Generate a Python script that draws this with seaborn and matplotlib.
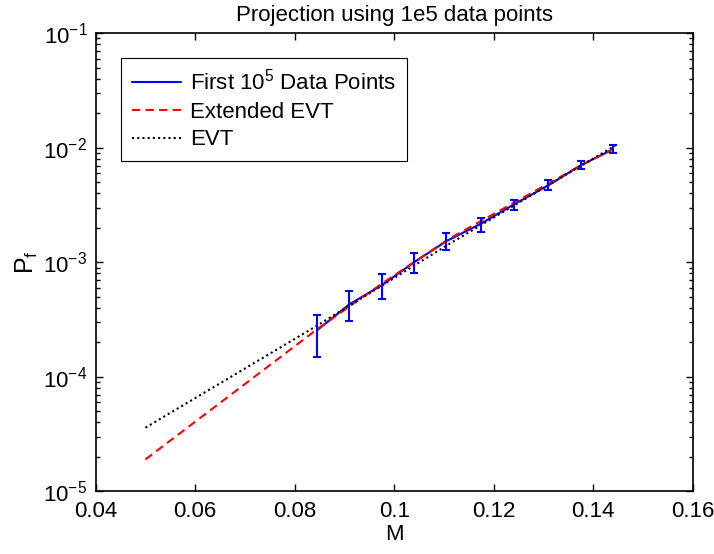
import numpy as np
import pandas as pd
import matplotlib
matplotlib.use('Agg')
import matplotlib.pyplot as plt
import matplotlib.ticker as mticker
import seaborn as sns

# values
m_data = [0.0845, 0.091, 0.0975, 0.104, 0.1105, 0.1175, 0.124, 0.131, 0.1375, 0.144]
pf_data = [2.55e-4, 4.3e-4, 6.3e-4, 1.0e-3, 1.53e-3, 2.18e-3, 3.19e-3, 4.7e-3, 7.03e-3, 9.7e-3]
pf_upper = [3.5e-4, 5.6e-4, 7.85e-4, 1.2e-3, 1.8e-3, 2.44e-3, 3.53e-3, 5.2e-3, 7.6e-3, 1.05e-2]
pf_lower = [1.48e-4, 3.1e-4, 4.75e-4, 8.1e-4, 1.29e-3, 1.83e-3, 2.85e-3, 4.31e-3, 6.5e-3, 9.0e-3]

m_ext = [0.05, 0.0845, 0.0975, 0.111, 0.124, 0.1375, 0.144]
pf_ext = [1.9e-5, 2.6e-4, 6.5e-4, 1.6e-3, 3.3e-3, 7.0e-3, 9.7e-3]

m_evt = [0.05, 0.0845, 0.111, 0.1445]
pf_evt = [3.6e-5, 2.8e-4, 1.44e-3, 1.05e-2]

xticks = [0.04, 0.06, 0.08, 0.1, 0.12, 0.14, 0.16]
xticklabels = ['0.04', '0.06', '0.08', '0.1', '0.12', '0.14', '0.16']

sns.set_style('ticks')
plt.rcParams['font.family'] = ['Liberation Sans', 'DejaVu Sans']
plt.rcParams['mathtext.fontset'] = 'custom'
plt.rcParams['mathtext.rm'] = 'Liberation Sans'
plt.rcParams['mathtext.it'] = 'Liberation Sans:italic'
plt.rcParams['text.color'] = 'black'
plt.rcParams['axes.labelcolor'] = 'black'
plt.rcParams['xtick.color'] = 'black'
plt.rcParams['ytick.color'] = 'black'

fs = 16

fig = plt.figure(figsize=(7.14, 5.54), dpi=100)
ax = fig.add_axes([0.134, 0.113, 0.836, 0.827])

df_data = pd.DataFrame({'M': m_data, 'Pf': pf_data})
df_ext = pd.DataFrame({'M': m_ext, 'Pf': pf_ext})
df_evt = pd.DataFrame({'M': m_evt, 'Pf': pf_evt})

sns.lineplot(data=df_data, x='M', y='Pf', ax=ax, color='#0000ff', lw=1.5,
             label='First 10$^5$ Data Points', sort=False)
sns.lineplot(data=df_ext, x='M', y='Pf', ax=ax, color='#ff0000', lw=1.5,
             linestyle=(0, (4, 2.5)), label='Extended EVT', sort=False)
sns.lineplot(data=df_evt, x='M', y='Pf', ax=ax, color='black', lw=1.5,
             linestyle=(0, (1, 1.5)), label='EVT', sort=False)

yerr = [np.array(pf_data) - np.array(pf_lower), np.array(pf_upper) - np.array(pf_data)]
ax.errorbar(m_data, pf_data, yerr=yerr, fmt='none', ecolor='#0000ff',
            elinewidth=1.5, capsize=3, capthick=1.5)

ax.set_yscale('log')
ax.set_xlim(0.04, 0.16)
ax.set_ylim(1e-5, 1e-1)
ax.set_xticks(xticks)
ax.set_xticklabels(xticklabels)
ax.yaxis.set_major_locator(mticker.LogLocator(base=10, numticks=10))
ax.yaxis.set_minor_locator(mticker.LogLocator(base=10, subs=np.arange(2, 10), numticks=20))
ax.yaxis.set_minor_formatter(mticker.NullFormatter())

ax.tick_params(which='both', direction='in', top=True, right=True, labelsize=fs,
               color='black', labelcolor='black', width=1)
ax.tick_params(which='major', length=5)
ax.tick_params(which='minor', length=3)
ax.tick_params(axis='x', pad=7)
ax.tick_params(axis='y', pad=6)
for s in ax.spines.values():
    s.set_linewidth(1.2)
    s.set_color('black')

ax.set_title('Projection using 1e5 data points', fontsize=fs, pad=9, color='black')
ax.set_xlabel('M', fontsize=fs, labelpad=1, color='black')
ax.set_ylabel(r'P$_\mathrm{f}$', fontsize=fs + 2, labelpad=2, color='black')

leg = ax.legend(loc='upper left', bbox_to_anchor=(0.043, 0.946), borderaxespad=0,
                fontsize=fs, frameon=True, fancybox=False, edgecolor='black',
                framealpha=1, handlelength=2.2, handletextpad=0.4, borderpad=0.5,
                labelspacing=0.3)
leg.get_frame().set_linewidth(0.8)
for t in leg.get_texts():
    t.set_color('black')

fig.savefig('out.png', dpi=100)
